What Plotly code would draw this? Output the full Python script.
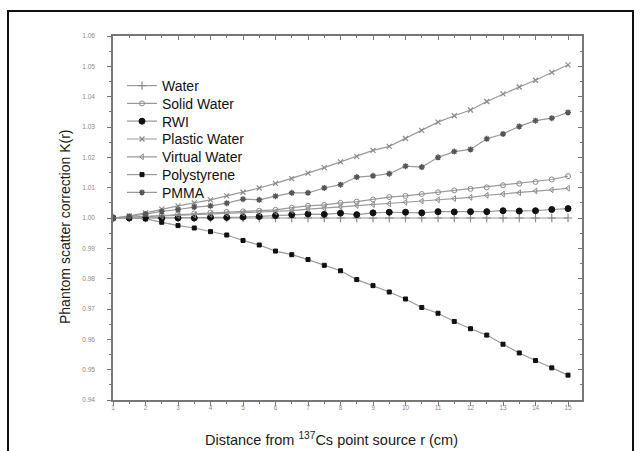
import plotly.graph_objects as go

r_cm = [1, 1.5, 2, 2.5, 3, 3.5, 4, 4.5, 5, 5.5, 6, 6.5, 7, 7.5, 8,
        8.5, 9, 9.5, 10, 10.5, 11, 11.5, 12, 12.5, 13, 13.5, 14, 14.5, 15]

water = [1.0] * 29
solid_water = [1.0000, 1.0003, 1.0006, 1.0009, 1.0012, 1.0015, 1.0018, 1.0020, 1.0022, 1.0024,
               1.0027, 1.0034, 1.0040, 1.0043, 1.0050, 1.0054, 1.0061, 1.0069, 1.0073, 1.0079,
               1.0085, 1.0091, 1.0096, 1.0101, 1.0108, 1.0113, 1.0119, 1.0127, 1.0138]
rwi = [1.0000, 1.0000, 1.0000, 1.0000, 1.0000, 1.0000, 1.0002, 1.0002, 1.0003, 1.0005,
       1.0008, 1.0011, 1.0013, 1.0012, 1.0016, 1.0011, 1.0017, 1.0019, 1.0019, 1.0017,
       1.0021, 1.0020, 1.0021, 1.0021, 1.0024, 1.0023, 1.0024, 1.0028, 1.0031]
plastic_water = [1.0000, 1.0007, 1.0017, 1.0029, 1.0040, 1.0050, 1.0060, 1.0073, 1.0085, 1.0099,
                 1.0114, 1.0130, 1.0148, 1.0166, 1.0185, 1.0203, 1.0223, 1.0236, 1.0262, 1.0289,
                 1.0316, 1.0337, 1.0356, 1.0384, 1.0409, 1.0432, 1.0454, 1.0480, 1.0505]
virtual_water = [1.0000, 1.0002, 1.0004, 1.0006, 1.0008, 1.0010, 1.0012, 1.0014, 1.0016, 1.0018,
                 1.0020, 1.0024, 1.0029, 1.0032, 1.0037, 1.0041, 1.0044, 1.0047, 1.0052, 1.0056,
                 1.0060, 1.0064, 1.0068, 1.0075, 1.0079, 1.0083, 1.0089, 1.0093, 1.0098]
polystyrene = [1.0000, 1.0000, 0.9997, 0.9986, 0.9975, 0.9967, 0.9955, 0.9944, 0.9926, 0.9911,
               0.9891, 0.9879, 0.9863, 0.9844, 0.9826, 0.9797, 0.9777, 0.9756, 0.9733, 0.9705,
               0.9686, 0.9659, 0.9635, 0.9614, 0.9584, 0.9555, 0.9530, 0.9506, 0.9482]
pmma = [1.0000, 1.0005, 1.0013, 1.0022, 1.0028, 1.0036, 1.0040, 1.0049, 1.0062, 1.0060,
        1.0072, 1.0083, 1.0083, 1.0099, 1.0110, 1.0135, 1.0139, 1.0146, 1.0171, 1.0168,
        1.0200, 1.0219, 1.0226, 1.0261, 1.0277, 1.0302, 1.0321, 1.0329, 1.0348]

series_names = ["Water", "Solid Water", "RWI", "Plastic Water",
                "Virtual Water", "Polystyrene", "PMMA"]

x_ticks = list(range(1, 16))
y_tick_vals = [0.94, 0.95, 0.96, 0.97, 0.98, 0.99, 1.00, 1.01, 1.02, 1.03, 1.04, 1.05, 1.06]
y_tick_text = ["0.94", "0.95", "0.96", "0.97", "0.98", "0.99", "1.00",
               "1.01", "1.02", "1.03", "1.04", "1.05", "1.06"]
x_title = "Distance from <sup>137</sup>Cs point source r (cm)"
y_title = "Phantom scatter correction K(r)"

FONT = "Liberation Sans, Arial, sans-serif"
LINE = "#9a9a9a"

values = [water, solid_water, rwi, plastic_water, virtual_water, polystyrene, pmma]
styles = [
    ("cross-thin-open", 6, "#8a8a8a", 1.2),
    ("circle-open", 5, "#8a8a8a", 1.0),
    ("circle", 6, "#111111", 1.0),
    ("x-thin-open", 5, "#8a8a8a", 1.2),
    ("triangle-left-open", 5, "#8a8a8a", 1.0),
    ("square", 4, "#111111", 1.0),
    ("asterisk-open", 5, "#555555", 1.4),
]

fig = go.Figure()
legend_layouts = {}
for i, (name, vals, (sym, size, mcol, mlw)) in enumerate(zip(series_names, values, styles)):
    lg = "legend" if i == 0 else f"legend{i + 1}"
    fig.add_trace(go.Scatter(
        x=r_cm, y=vals, name=name, legend=lg,
        mode="lines+markers",
        line=dict(color=LINE, width=1.2),
        marker=dict(symbol=sym, size=size, color=mcol,
                    line=dict(color=mcol, width=mlw)),
    ))
    row_center = 86 + 17.8 * i  # pixel row of each legend entry
    legend_layouts[lg] = dict(
        x=(122 - 113) / 469, y=(400 - row_center) / 364,
        xanchor="left", yanchor="middle",
        bgcolor="rgba(0,0,0,0)", borderwidth=0,
        font=dict(family=FONT, size=14, color="#111111"),
    )

# dummy trace for the mirrored (top/right) axes with inward ticks
fig.add_trace(go.Scatter(x=[None], y=[None], xaxis="x2", yaxis="y2",
                         showlegend=False, hoverinfo="skip"))

XR = [1, 15.43]
YR = [0.94, 1.06]
axis_col = "#777777"
tickfont = dict(family=FONT, size=6.5, color="#8a8a8a")

fig.update_layout(
    width=640, height=451,
    margin=dict(l=113, r=58, t=36, b=51, autoexpand=False),
    paper_bgcolor="white", plot_bgcolor="white",
    showlegend=True,
    xaxis=dict(
        range=XR, tickvals=x_ticks, ticktext=[str(v) for v in x_ticks],
        ticks="outside", ticklen=4, tickwidth=1, tickcolor=axis_col,
        minor=dict(dtick=0.5, tick0=1, ticks="outside", ticklen=2, tickcolor=axis_col),
        showline=True, linecolor=axis_col, linewidth=1.5,
        showgrid=False, zeroline=False, tickfont=tickfont,
        ticklabelstandoff=-4,
    ),
    yaxis=dict(
        range=YR, tickvals=y_tick_vals, ticktext=y_tick_text,
        ticks="outside", ticklen=4, tickwidth=1, tickcolor=axis_col,
        minor=dict(dtick=0.005, tick0=0.94, ticks="outside", ticklen=2, tickcolor=axis_col),
        showline=True, linecolor=axis_col, linewidth=1.5,
        showgrid=False, zeroline=False, tickfont=tickfont,
        ticklabelstandoff=11,
    ),
    xaxis2=dict(
        range=XR, overlaying="x", side="top", anchor="y2",
        tickvals=x_ticks, showticklabels=False,
        ticks="inside", ticklen=4, tickcolor=axis_col,
        minor=dict(dtick=0.5, tick0=1, ticks="inside", ticklen=2, tickcolor=axis_col),
        showline=True, linecolor=axis_col, linewidth=1.5, showgrid=False, zeroline=False,
    ),
    yaxis2=dict(
        range=YR, overlaying="y", side="right", anchor="x2",
        tickvals=y_tick_vals, showticklabels=False,
        ticks="inside", ticklen=4, tickcolor=axis_col,
        minor=dict(dtick=0.005, tick0=0.94, ticks="inside", ticklen=2, tickcolor=axis_col),
        showline=True, linecolor=axis_col, linewidth=1.5, showgrid=False, zeroline=False,
    ),
    **legend_layouts,
)

# axis titles (offset like the original figure)
fig.add_annotation(text=x_title, xref="paper", yref="paper",
                   x=(331 - 113) / 469, y=(400 - 439) / 364,
                   xanchor="center", yanchor="middle", showarrow=False,
                   font=dict(family=FONT, size=14.5, color="#1a1a1a"))
fig.add_annotation(text=y_title, xref="paper", yref="paper",
                   x=(65 - 113) / 469, y=(400 - 227) / 364, textangle=-90,
                   xanchor="center", yanchor="middle", showarrow=False,
                   font=dict(family=FONT, size=14, color="#1a1a1a"))

# outer frame of the figure (left, top, right edges)
fig.add_shape(type="rect", xref="paper", yref="paper",
              x0=(8 - 113) / 469, x1=(633 - 113) / 469,
              y0=-0.5, y1=(400 - 11) / 364,
              line=dict(color="#111111", width=2), fillcolor="rgba(0,0,0,0)",
              layer="above")

fig.write_html("out.html",
               config={"displayModeBar": False},
               post_script="document.body.style.margin='0';")
